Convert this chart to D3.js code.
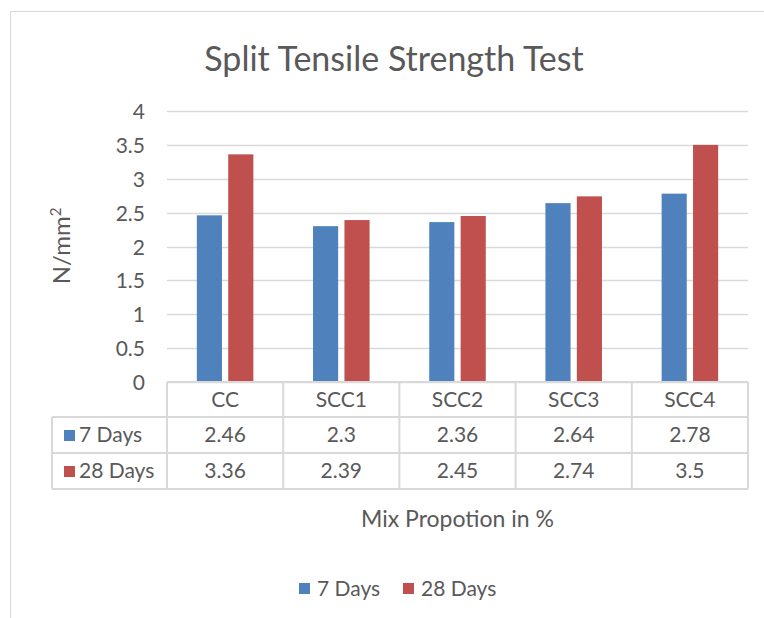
<!DOCTYPE html>
<html><head><meta charset="utf-8">
<script src="https://cdn.jsdelivr.net/npm/d3@7"></script>
<style>body{margin:0;background:#fff}svg{display:block;font-family:Lato,"Open Sans",sans-serif}</style>
</head><body><svg id="c" width="764" height="618"></svg>
<script>
const categories = ["CC","SCC1","SCC2","SCC3","SCC4"];
const seriesNames = ["7 Days","28 Days"];
const days7 = [2.46,2.3,2.36,2.64,2.78];
const days28 = [3.36,2.39,2.45,2.74,3.5];
const yTicks = [0,0.5,1,1.5,2,2.5,3,3.5,4];
const colors = ["#4F81BD","#C0504D"];
const series = [days7, days28];

const svg = d3.select("#c");
const txt = "#595959", grid = "#D9D9D9";
svg.append("rect").attr("x",10.5).attr("y",11.5).attr("width",800).attr("height",700)
  .attr("fill","#fff").attr("stroke",grid);

const L=167, R=748, T=111, B=382;
const x = d3.scaleBand().domain(categories).range([L,R]);
const y = d3.scaleLinear().domain([0,4]).range([B,T]);
const xs = d3.scaleBand().domain(seriesNames).range([0,x.bandwidth()]).paddingInner(0.2).paddingOuter(0.95);

svg.append("text").attr("x",394).attr("y",71).attr("text-anchor","middle")
  .attr("font-size",34).attr("fill",txt).text("Split Tensile Strength Test");

// grid
svg.append("g").selectAll("line").data(yTicks).join("line")
  .attr("x1",L).attr("x2",R).attr("y1",d=>Math.round(y(d))+0.5).attr("y2",d=>Math.round(y(d))+0.5)
  .attr("stroke",grid).attr("stroke-width",1.5);
const yAxis = svg.append("g").attr("transform",`translate(${L-22},0)`)
  .call(d3.axisLeft(y).tickValues(yTicks).tickSize(0).tickFormat(d3.format("")));
yAxis.select(".domain").remove();
yAxis.selectAll("text").attr("font-size",21).attr("fill",txt).attr("font-family","Lato,sans-serif").attr("x",0).attr("dy","0.36em");

svg.append("text").attr("transform","translate(70,246) rotate(-90)").attr("text-anchor","middle")
  .attr("font-size",24).attr("fill",txt).html('N/mm<tspan dy="-9" font-size="15">2</tspan>');

// bars
series.forEach((vals,si)=>{
  svg.append("g").selectAll("rect").data(vals).join("rect")
    .attr("x",(d,i)=>x(categories[i])+xs(seriesNames[si]))
    .attr("width",xs.bandwidth())
    .attr("y",d=>y(d)).attr("height",d=>B-y(d))
    .attr("fill",colors[si]);
});

// data table
const rows=[B, B+35, B+71, B+107];
const tg = svg.append("g").attr("stroke",grid).attr("stroke-width",2);
tg.append("line").attr("x1",L).attr("x2",R).attr("y1",rows[0]).attr("y2",rows[0]);
[1,2,3].forEach(k=>tg.append("line").attr("x1",52).attr("x2",R).attr("y1",rows[k]).attr("y2",rows[k]));
tg.append("line").attr("x1",52).attr("x2",52).attr("y1",rows[1]).attr("y2",rows[3]);
categories.forEach(c=>tg.append("line").attr("x1",x(c)).attr("x2",x(c)).attr("y1",rows[0]).attr("y2",rows[3]));
tg.append("line").attr("x1",R).attr("x2",R).attr("y1",rows[0]).attr("y2",rows[3]);

svg.append("g").selectAll("text").data(categories).join("text")
  .attr("x",c=>x(c)+x.bandwidth()/2).attr("y",(rows[0]+rows[1])/2+7).attr("text-anchor","middle")
  .attr("font-size",21).attr("fill",txt).text(c=>c);
series.forEach((vals,si)=>{
  const cy=(rows[si+1]+rows[si+2])/2;
  svg.append("g").selectAll("text").data(vals).join("text")
    .attr("x",(d,i)=>x(categories[i])+x.bandwidth()/2).attr("y",cy+7).attr("text-anchor","middle")
    .attr("font-size",21).attr("fill",txt).text(d=>d);
  svg.append("rect").attr("x",64).attr("y",cy-5).attr("width",11).attr("height",11).attr("fill",colors[si]);
  svg.append("text").attr("x",79).attr("y",cy+7).attr("font-size",21).attr("fill",txt).text(seriesNames[si]);
});

svg.append("text").attr("x",(L+R)/2).attr("y",527).attr("text-anchor","middle")
  .attr("font-size",23).attr("fill",txt).text("Mix Propotion in %");

// legend
const lg = [{x:299},{x:403}];
seriesNames.forEach((s,i)=>{
  svg.append("rect").attr("x",lg[i].x).attr("y",583).attr("width",11).attr("height",11).attr("fill",colors[i]);
  svg.append("text").attr("x",lg[i].x+18).attr("y",596).attr("font-size",21).attr("fill",txt).text(s);
});
</script></body></html>
